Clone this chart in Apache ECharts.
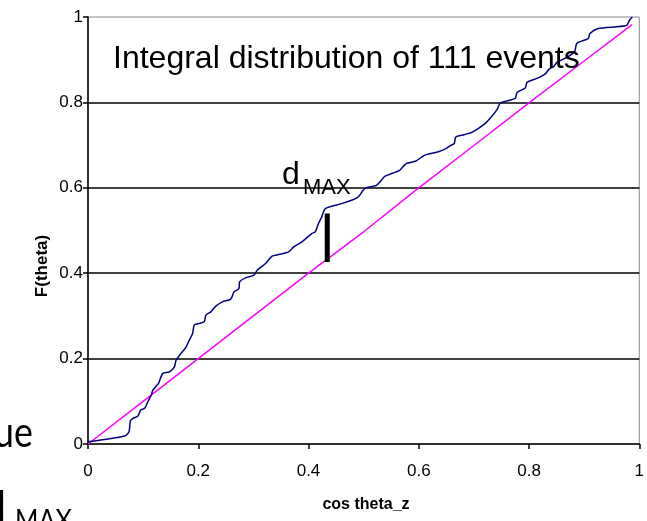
<!DOCTYPE html>
<html>
<head>
<meta charset="utf-8">
<script src="https://cdn.jsdelivr.net/npm/echarts@6/dist/echarts.min.js"></script>
<style>
html,body{margin:0;padding:0;background:#fff;}
#chart{width:647px;height:521px;}
</style>
</head>
<body>
<div id="chart"></div>
<script>
// Empirical integral distribution (blue)
var empiricalX = [0,0.0667,0.0744,0.0769,0.0816,0.0906,0.0955,0.1027,0.1086,0.1148,0.1177,0.1238,0.1279,0.1357,0.1477,0.1568,0.1598,0.1688,0.1778,0.1838,0.1897,0.1928,0.2018,0.2108,0.2139,0.2229,0.2319,0.2438,0.2589,0.2649,0.2739,0.275,0.2859,0.3009,0.3068,0.322,0.3339,0.3459,0.364,0.373,0.3879,0.4059,0.4121,0.418,0.424,0.427,0.4306,0.442,0.46,0.478,0.4901,0.4991,0.505,0.5231,0.5321,0.5382,0.5532,0.5652,0.5771,0.5951,0.6103,0.6342,0.6492,0.6582,0.6643,0.6672,0.6823,0.6973,0.7184,0.7303,0.7423,0.7483,0.7748,0.7784,0.7933,0.7964,0.8144,0.8294,0.836,0.845,0.8505,0.8685,0.8829,0.8865,0.8986,0.9076,0.9105,0.9256,0.9766,0.9825,0.9874];
var empiricalY = [0.005,0.0187,0.0288,0.0545,0.0601,0.0655,0.0795,0.0835,0.0989,0.1146,0.1263,0.1357,0.142,0.1654,0.1691,0.1808,0.1965,0.2122,0.2269,0.2433,0.2589,0.2784,0.2823,0.2861,0.3018,0.3095,0.3228,0.3329,0.3392,0.3563,0.3642,0.3796,0.389,0.3953,0.407,0.4227,0.4398,0.4437,0.4498,0.4615,0.4732,0.4929,0.4966,0.5163,0.5317,0.5434,0.5513,0.5567,0.563,0.5708,0.5785,0.5942,0.6005,0.6058,0.6175,0.6269,0.6346,0.6409,0.6566,0.6627,0.676,0.6837,0.6917,0.6994,0.7034,0.7188,0.7244,0.7305,0.7485,0.7642,0.7836,0.7988,0.8094,0.8234,0.8339,0.8468,0.8561,0.8667,0.8772,0.8842,0.8936,0.9053,0.9193,0.938,0.945,0.9497,0.9614,0.9731,0.9801,0.993,1.0];
// Expected uniform distribution (magenta)
var uniformX = [0,0.1,0.2,0.3,0.4,0.5,0.6,0.7,0.8,0.9,0.987];
var uniformY = [0,0.1,0.2,0.3,0.4,0.497,0.6,0.699,0.799,0.897,0.982];
// d_MAX marker
var dmaxX = [0.434,0.434];
var dmaxY = [0.426,0.540];
var tickValues = ['0','0.2','0.4','0.6','0.8','1'];

function zip(a,b){return a.map(function(v,i){return [v,b[i]];});}

var chart = echarts.init(document.getElementById('chart'), null, {renderer:'canvas'});
var labelFont = "'Liberation Sans',Arial,sans-serif";
chart.setOption({
  animation:false,
  backgroundColor:'#fff',
  grid:{left:88,right:4,top:17,bottom:77,show:true,borderColor:'#888',borderWidth:1,backgroundColor:'transparent'},
  xAxis:{
    type:'value',min:0,max:1,interval:0.2,
    axisLine:{lineStyle:{color:'#000',width:1.5}},
    axisTick:{show:true,length:5,lineStyle:{color:'#000',width:1.5}},
    axisLabel:{margin:19,fontFamily:labelFont,fontSize:17,color:'#000',formatter:function(v){var i=Math.round(v/0.2);return tickValues[i];}},
    splitLine:{show:false}
  },
  yAxis:{
    type:'value',min:0,max:1,interval:0.2,
    axisLine:{show:true,lineStyle:{color:'#000',width:1.5}},
    axisTick:{show:true,length:5,lineStyle:{color:'#000',width:1.5}},
    axisLabel:{margin:5,fontFamily:labelFont,fontSize:17,color:'#000',formatter:function(v){var i=Math.round(v/0.2);return tickValues[i];}},
    splitLine:{show:true,showMinLine:false,showMaxLine:false,lineStyle:{color:'#000',width:1.5}}
  },
  series:[
    {type:'line',data:zip(uniformX,uniformY),showSymbol:false,lineStyle:{color:'#ff00ff',width:1.5},itemStyle:{color:'#ff00ff'},z:3},
    {type:'line',data:zip(empiricalX,empiricalY),showSymbol:false,smooth:0.25,lineStyle:{color:'#000080',width:1.5},itemStyle:{color:'#000080'},z:4},
    {type:'line',data:zip(dmaxX,dmaxY),showSymbol:false,lineStyle:{color:'#000',width:5,cap:'butt'},itemStyle:{color:'#000'},z:5}
  ],
  graphic:[
    {type:'text',x:366,y:505,z:10,style:{text:'cos theta_z',font:"bold 16px 'Liberation Sans',Arial,sans-serif",fill:'#000',align:'center',verticalAlign:'middle'}},
    {type:'text',x:42,y:266,rotation:Math.PI/2,z:10,style:{text:'F(theta)',font:"bold 17px 'Liberation Sans',Arial,sans-serif",fill:'#000',align:'center',verticalAlign:'middle'}},
    {type:'text',left:113,top:43,z:10,style:{text:'Integral distribution of 111 events',font:"32px 'Liberation Sans',Arial,sans-serif",fill:'#000'}},
    {type:'text',x:282,y:159,z:10,style:{text:'d',font:"32px 'Liberation Sans',Arial,sans-serif",fill:'#000'}},
    {type:'text',x:303,y:177,z:10,style:{text:'MAX',font:"22px 'Liberation Sans',Arial,sans-serif",fill:'#000'}},
    {type:'text',x:-6,y:412,z:10,scaleX:0.85,style:{text:'ue',font:"42px Lato,'Open Sans',sans-serif",fill:'#000'}},
    {type:'text',x:-16,y:485,z:10,scaleX:0.75,style:{text:'d',font:"52px Lato,'Open Sans',sans-serif",fill:'#000'}},
    {type:'text',x:15,y:507,z:10,scaleX:0.9,style:{text:'MAX',font:"28px Lato,'Open Sans',sans-serif",fill:'#000'}}
  ]
});
</script>
</body>
</html>
